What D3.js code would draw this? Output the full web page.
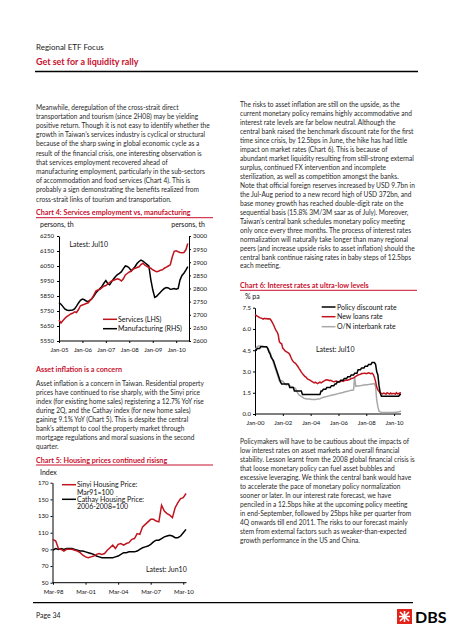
<!DOCTYPE html>
<html><head><meta charset="utf-8">
<script src="https://cdn.jsdelivr.net/npm/d3@7"></script>
<style>html,body{margin:0;padding:0;background:#fff;} svg{display:block}</style>
</head><body>
<svg id="page" width="452" height="640"></svg>
<script>
// ---------------- DATA ----------------
// Chart 4: monthly Jan-05 .. Jul-10
const ch4Start = "2005-01";
const servicesLHS = [5690,5670,5685,5700,5712,5720,5730,5735,5745,5740,5760,5785,
  5790,5795,5800,5805,5820,5835,5860,5885,5890,5895,5905,5915,
  5920,5930,5940,5950,5955,5960,5965,5960,5950,5965,5990,6000,
  6010,6015,6030,6035,6040,6045,6060,6068,6055,6048,6040,6035,
  6025,6018,6012,6015,6022,6025,6035,6042,6050,6058,6110,6148,
  6152,6145,6140,6138,6140,6158,6200];
const manufacturingRHS = [2746,2740,2732,2722,2718,2716,2717,2718,2722,2733,2745,2755,
  2760,2757,2752,2750,2756,2762,2772,2784,2792,2800,2808,2820,
  2830,2818,2814,2826,2836,2846,2853,2858,2864,2876,2886,2884,
  2878,2868,2874,2884,2895,2903,2908,2904,2898,2892,2886,2835,
  2795,2766,2770,2778,2786,2794,2800,2804,2802,2797,2798,2800,
  2797,2800,2832,2850,2858,2870,2883];
const ch4LeftTicks = [5550,5650,5750,5850,5950,6050,6150,6250];
const ch4RightTicks = [2600,2650,2700,2750,2800,2850,2900,2950,3000];
const ch4XTicks = ["Jan-05","Jan-06","Jan-07","Jan-08","Jan-09","Jan-10"];
const ch4Series = ["Services (LHS)","Manufacturing (RHS)"];

// Chart 5: quarterly Mar-98 .. Jun-10
const ch5Start = "1998-03";
const sinyiPrice = [102,100,91,90,88,90,90,90,89,88,86,83,81,80,81,82,84,85,84,85,
  89,92,95,91,96,97,95,97,98,102,103,109,108,117,120,123,126,126,124,123,
  143,136,133,131,128,140,146,151,152,157];
const cathayPrice = [89,91,90,91,90,91,91,91,90,89,88,88,87,86,85,84,82,81,80,80,
  80,80,80,81,82,84,86,86,87,87,87,88,90,92,93,94,96,99,101,101,
  103,105,106,107,106,104,104,106,110,114];
const ch5YTicks = [50,70,90,110,130,150,170];
const ch5XTicks = ["Mar-98","Mar-01","Mar-04","Mar-07","Mar-10"];

// Chart 6: monthly Jan-00 .. Jul-10
const ch6Start = "2000-01";
const policyDiscountRate = [
  4.5,4.5,4.625,4.625,4.625,4.75,4.75,4.75,4.75,4.75,4.75,4.625,
  4.375,4.25,4.0,3.875,3.75,3.5,3.25,3.0,2.75,2.5,2.25,2.125,
  2.125,2.125,2.125,2.125,2.125,2.125,1.875,1.875,1.875,1.875,1.625,1.625,
  1.625,1.625,1.625,1.625,1.625,1.375,1.375,1.375,1.375,1.375,1.375,1.375,
  1.375,1.375,1.375,1.375,1.375,1.375,1.375,1.375,1.375,1.625,1.625,1.75,
  1.75,1.75,1.875,1.875,1.875,1.875,2.0,2.0,2.0,2.125,2.125,2.25,
  2.25,2.25,2.375,2.375,2.375,2.5,2.5,2.5,2.625,2.625,2.625,2.75,
  2.75,2.75,2.875,2.875,2.875,3.125,3.125,3.125,3.25,3.25,3.25,3.375,
  3.375,3.375,3.5,3.5,3.5,3.625,3.625,3.625,3.5,3.0,2.75,2.0,
  1.5,1.25,1.25,1.25,1.25,1.25,1.25,1.25,1.25,1.25,1.25,1.25,
  1.25,1.25,1.25,1.25,1.25,1.375,1.375];
const newLoansRate = [
  7.0,6.95,6.9,6.85,6.8,6.78,6.75,6.7,6.75,6.72,6.74,6.7,
  6.72,6.7,6.6,6.45,6.3,6.1,5.92,5.8,5.6,5.1,5.0,4.95,
  4.63,4.55,4.45,4.4,4.35,4.3,4.2,4.0,3.82,3.7,3.62,3.57,
  3.45,3.35,3.22,3.1,2.95,2.85,2.75,2.65,2.6,2.5,2.45,2.4,
  2.35,2.3,2.25,2.2,2.25,2.2,2.15,2.2,2.25,2.2,2.25,2.3,
  2.35,2.4,2.42,2.4,2.35,2.38,2.35,2.3,2.28,2.3,2.32,2.3,
  2.28,2.3,2.35,2.32,2.3,2.35,2.38,2.4,2.38,2.42,2.45,2.5,
  2.52,2.55,2.6,2.65,2.7,2.75,2.78,2.8,2.85,2.85,2.88,2.87,
  2.85,2.88,2.9,2.87,2.85,2.88,2.8,2.6,2.3,1.9,1.7,1.6,
  1.5,1.45,1.42,1.48,1.45,1.4,1.5,1.45,1.4,1.48,1.42,1.45,
  1.45,1.4,1.5,1.42,1.45,1.48,1.5];
const interbankRate = [
  4.6,4.65,4.75,4.8,4.8,4.82,4.8,4.78,4.75,4.75,4.7,4.6,
  4.5,4.3,4.1,3.9,3.6,3.35,3.1,2.85,2.6,2.35,2.28,2.35,
  2.3,2.2,2.1,2.05,2.1,2.05,2.0,1.95,1.9,1.88,1.85,1.8,
  1.6,1.45,1.35,1.3,1.25,1.2,1.12,1.1,1.08,1.06,1.05,1.05,
  1.04,1.03,1.03,1.02,1.03,1.04,1.05,1.06,1.08,1.12,1.15,1.18,
  1.2,1.22,1.24,1.26,1.28,1.3,1.32,1.34,1.36,1.38,1.4,1.42,
  1.44,1.46,1.48,1.5,1.52,1.55,1.57,1.59,1.61,1.63,1.65,1.67,
  1.68,1.7,2.6,1.95,1.97,1.98,2.0,2.0,2.02,2.03,2.04,2.05,
  2.06,2.07,2.08,2.1,2.1,2.12,2.14,2.15,1.95,1.0,0.5,0.2,
  0.15,0.12,0.11,0.11,0.1,0.1,0.1,0.1,0.1,0.1,0.1,0.11,
  0.11,0.12,0.13,0.14,0.15,0.18,0.2];
const ch6YTicks = [0,1.5,3.0,4.5,6.0,7.5];
const ch6XTicks = ["Jan-00","Jan-02","Jan-04","Jan-06","Jan-08","Jan-10"];
const ch6Series = ["Policy discount rate","New loans rate","O/N interbank rate"];

// ---------------- TEXT ----------------
const para1 = [
 "Meanwhile, deregulation of the cross-strait direct",
 "transportation and tourism (since 2H08) may be yielding",
 "positive return. Though it is not easy to identify whether the",
 "growth in Taiwan\u2019s services industry is cyclical or structural",
 "because of the sharp swing in global economic cycle as a",
 "result of the financial crisis, one interesting observation is",
 "that services employment recovered ahead of",
 "manufacturing employment, particularly in the sub-sectors",
 "of accommodation and food services (Chart 4). This is",
 "probably a sign demonstrating the benefits realized from",
 "cross-strait links of tourism and transportation."];
const para2 = [
 "Asset inflation is a concern in Taiwan. Residential property",
 "prices have continued to rise sharply, with the Sinyi price",
 "index (for existing home sales) registering a 12.7% YoY rise",
 "during 2Q, and the Cathay index (for new home sales)",
 "gaining 9.1% YoY (Chart 5). This is despite the central",
 "bank\u2019s attempt to cool the property market through",
 "mortgage regulations and moral suasions in the second",
 "quarter."];
const para3 = [
 "The risks to asset inflation are still on the upside, as the",
 "current monetary policy remains highly accommodative and",
 "interest rate levels are far below neutral. Although the",
 "central bank raised the benchmark discount rate for the first",
 "time since crisis, by 12.5bps in June, the hike has had little",
 "impact on market rates (Chart 6). This is because of",
 "abundant market liquidity resulting from still-strong external",
 "surplus, continued FX intervention and incomplete",
 "sterilization, as well as competition amongst the banks.",
 "Note that official foreign reserves increased by USD 9.7bn in",
 "the Jul-Aug period to a new record high of USD 372bn, and",
 "base money growth has reached double-digit rate on the",
 "sequential basis (15.8% 3M/3M saar as of July). Moreover,",
 "Taiwan\u2019s central bank schedules monetary policy meeting",
 "only once every three months. The process of interest rates",
 "normalization will naturally take longer than many regional",
 "peers (and increase upside risks to asset inflation) should the",
 "central bank continue raising rates in baby steps of 12.5bps",
 "each meeting."];
const para4 = [
 "Policymakers will have to be cautious about the impacts of",
 "low interest rates on asset markets and overall financial",
 "stability. Lesson learnt from the 2008 global financial crisis is",
 "that loose monetary policy can fuel asset bubbles and",
 "excessive leveraging. We think the central bank would have",
 "to accelerate the pace of monetary policy normalization",
 "sooner or later. In our interest rate forecast, we have",
 "penciled in a 12.5bps hike at the upcoming policy meeting",
 "in end-September, followed by 25bps hike per quarter from",
 "4Q onwards till end 2011. The risks to our forecast mainly",
 "stem from external factors such as weaker-than-expected",
 "growth performance in the US and China."];

// ---------------- RENDER ----------------
const FAMILY = "Lato, 'Open Sans', sans-serif";
const RED = "#c8102e", LINE_RED = "#c0141f", TXT = "#2a2a2a";
const ctx = document.createElement("canvas").getContext("2d");
function fit(t, w, weight) { ctx.font = `${weight} 100px ${FAMILY}`; return 100 * w / ctx.measureText(t).width; }
const bodySize = fit(para1[2], 175, 400);
const headSize = fit("Regional ETF Focus", 68, 400);
const titleSize = fit("Get set for a liquidity rally", 103, 700);
const chartTitleSize = fit("Chart 4: Services employment vs, manufacturing", 155, 700);
const sectionSize = fit("Asset inflation is a concern", 86, 700);
const chartTxt = fit("Manufacturing (RHS)", 64, 400);
const tickSize = fit("6250", 14, 400);

const svg = d3.select("#page").attr("font-family", FAMILY);
svg.append("rect").attr("width", 452).attr("height", 640).attr("fill", "#fff");

function txt(g, s, x, y, size, o = {}) {
  return g.append("text").attr("x", x).attr("y", y).attr("font-size", size)
    .attr("font-weight", o.weight || 400).attr("fill", o.fill || TXT)
    .attr("text-anchor", o.anchor || "start").text(s);
}
function block(lines, x, yc, step, size) {
  lines.forEach((l, i) => txt(svg, l, x, yc + i * step + size * 0.36, size));
}

// Header
txt(svg, "Regional ETF Focus", 36, 50, headSize, {fill: "#222"});
txt(svg, "Get set for a liquidity rally", 36, 65, titleSize, {weight: 700, fill: RED});
svg.append("line").attr("x1", 35).attr("x2", 418).attr("y1", 71.5).attr("y2", 71.5).attr("stroke", "#000").attr("stroke-width", 1.3);

block(para1, 36, 107.3, 9.2, bodySize);
txt(svg, "Asset inflation is a concern", 36, 369.3 + sectionSize * 0.36, sectionSize, {weight: 700, fill: RED});
block(para2, 36, 384, 8.96, bodySize);
block(para3, 240, 105, 8.95, bodySize);
block(para4, 240, 441.7, 9.0, bodySize);

function chartTitle(s, x, yc, x2) {
  txt(svg, s, x, yc + chartTitleSize * 0.36, chartTitleSize, {weight: 700, fill: RED});
  svg.append("line").attr("x1", x).attr("x2", x2).attr("y1", yc + 5).attr("y2", yc + 5).attr("stroke", RED).attr("stroke-width", 1);
}
function styleAxis(g) {
  g.attr("font-family", FAMILY).attr("font-size", tickSize);
  g.selectAll(".domain").attr("stroke", "#000").attr("stroke-width", 1);
  g.selectAll(".tick line").attr("stroke", "#000");
  g.selectAll(".tick text").attr("fill", "#111");
}
const parseTick = d3.timeParse("%b-%y");
const parseStart = d3.timeParse("%Y-%m");
const monthly = (start, arr) => arr.map((v, i) => ({d: d3.timeMonth.offset(parseStart(start), i), v}));
const quarterly = (start, arr) => arr.map((v, i) => ({d: d3.timeMonth.offset(parseStart(start), 3 * i), v}));

// ---- Chart 4 ----
chartTitle("Chart 4: Services employment vs, manufacturing", 36, 212.7, 213);
txt(svg, "persons, th", 40, 224.5 + chartTxt * 0.36, chartTxt, {fill: "#111"});
txt(svg, "persons, th", 205, 224.5 + chartTxt * 0.36, chartTxt, {fill: "#111", anchor: "end"});
{
  const sv = monthly(ch4Start, servicesLHS), mf = monthly(ch4Start, manufacturingRHS);
  const x = d3.scaleTime().domain([parseStart(ch4Start), sv[sv.length - 1].d]).range([59, 187.8]);
  const yL = d3.scaleLinear().domain([5550, 6250]).range([341, 236]);
  const yR = d3.scaleLinear().domain([2600, 3000]).range([341, 236]);
  const gL = svg.append("g").attr("transform", "translate(59,0)")
    .call(d3.axisLeft(yL).tickValues(ch4LeftTicks).tickSize(2).tickSizeOuter(0).tickPadding(3).tickFormat(d3.format("d")));
  styleAxis(gL);
  const gR = svg.append("g").attr("transform", "translate(189,0)")
    .call(d3.axisRight(yR).tickValues(ch4RightTicks).tickSize(2).tickSizeOuter(0).tickPadding(2).tickFormat(d3.format("d")));
  styleAxis(gR);
  const gX = svg.append("g").attr("transform", "translate(0,341)")
    .call(d3.axisBottom(x).tickValues(ch4XTicks.map(parseTick)).tickSize(2).tickSizeOuter(0).tickPadding(5)
      .tickFormat((d, i) => ch4XTicks[i]));
  styleAxis(gX);
  gX.select(".domain").attr("d", "M59,0H189");
  svg.append("path").datum(mf).attr("fill", "none").attr("stroke", "#000").attr("stroke-width", 1.5)
    .attr("d", d3.line().x(d => x(d.d)).y(d => yR(d.v)));
  svg.append("path").datum(sv).attr("fill", "none").attr("stroke", LINE_RED).attr("stroke-width", 1.5)
    .attr("d", d3.line().x(d => x(d.d)).y(d => yL(d.v)));
  txt(svg, "Latest: Jul10", 69.5, 244 + chartTxt * 0.36, chartTxt, {fill: "#111"});
  [[LINE_RED, 319.3], ["#000", 328.7]].forEach(([c, y], i) => {
    svg.append("line").attr("x1", 103).attr("x2", 117).attr("y1", y).attr("y2", y).attr("stroke", c).attr("stroke-width", 1.5);
    txt(svg, ch4Series[i], 118, y + chartTxt * 0.36, chartTxt, {fill: "#111"});
  });
}

// ---- Chart 5 ----
chartTitle("Chart 5: Housing prices continued risisng", 36, 460, 213);
txt(svg, "Index", 40, 472.7 + chartTxt * 0.36, chartTxt, {fill: "#111"});
{
  const sn = quarterly(ch5Start, sinyiPrice), ct = quarterly(ch5Start, cathayPrice);
  const x = d3.scaleTime().domain([parseStart(ch5Start), sn[sn.length - 1].d]).range([53, 186]);
  const y = d3.scaleLinear().domain([50, 170]).range([582.7, 482.7]);
  const gY = svg.append("g").attr("transform", "translate(52.5,0)")
    .call(d3.axisLeft(y).tickValues(ch5YTicks).tickSize(2).tickSizeOuter(0).tickPadding(2));
  styleAxis(gY);
  const gX = svg.append("g").attr("transform", "translate(0,582.7)")
    .call(d3.axisBottom(x).tickValues(ch5XTicks.map(parseTick)).tickSize(2).tickSizeOuter(0).tickPadding(5)
      .tickFormat((d, i) => ch5XTicks[i]));
  styleAxis(gX);
  gX.select(".domain").attr("d", "M52.5,0H186.5");
  svg.append("path").datum(ct).attr("fill", "none").attr("stroke", "#000").attr("stroke-width", 1.5)
    .attr("d", d3.line().x(d => x(d.d)).y(d => y(d.v)));
  svg.append("path").datum(sn).attr("fill", "none").attr("stroke", LINE_RED).attr("stroke-width", 1.5)
    .attr("d", d3.line().x(d => x(d.d)).y(d => y(d.v)));
  const leg = [[LINE_RED, 484.7, ["Sinyi Housing Price:", "Mar91=100"]], ["#000", 499.3, ["Cathay Housing Price:", "2006-2008=100"]]];
  leg.forEach(([c, yy, lab]) => {
    svg.append("line").attr("x1", 62).attr("x2", 76).attr("y1", yy).attr("y2", yy).attr("stroke", c).attr("stroke-width", 1.5);
    lab.forEach((l, j) => txt(svg, l, 77, yy + j * 7.3 + chartTxt * 0.36, chartTxt, {fill: "#111"}));
  });
  txt(svg, "Latest: Jun10", 146, 569.3 + chartTxt * 0.36, chartTxt, {fill: "#111"});
}

// ---- Chart 6 ----
chartTitle("Chart 6: Interest rates at ultra-low levels", 240, 285.3, 417);
txt(svg, "% pa", 245, 296.7 + chartTxt * 0.36, chartTxt, {fill: "#111"});
{
  const pr = monthly(ch6Start, policyDiscountRate), nl = monthly(ch6Start, newLoansRate), ib = monthly(ch6Start, interbankRate);
  const x = d3.scaleTime().domain([parseStart(ch6Start), pr[pr.length - 1].d]).range([255, 401]);
  const y = d3.scaleLinear().domain([0, 7.5]).range([414, 307.7]);
  const gY = svg.append("g").attr("transform", "translate(255,0)")
    .call(d3.axisLeft(y).tickValues(ch6YTicks).tickSize(2).tickSizeOuter(0).tickPadding(2).tickFormat(d3.format(".1f")));
  styleAxis(gY);
  const gX = svg.append("g").attr("transform", "translate(0,414)")
    .call(d3.axisBottom(x).tickValues(ch6XTicks.map(parseTick)).tickSize(2).tickSizeOuter(0).tickPadding(5)
      .tickFormat((d, i) => ch6XTicks[i]));
  styleAxis(gX);
  gX.select(".domain").attr("d", "M255,0H401");
  const ln = d3.line().x(d => x(d.d)).y(d => y(d.v));
  svg.append("path").datum(ib).attr("fill", "none").attr("stroke", "#a8a8a8").attr("stroke-width", 1.5).attr("d", ln);
  svg.append("path").datum(nl).attr("fill", "none").attr("stroke", LINE_RED).attr("stroke-width", 1.5).attr("d", ln);
  svg.append("path").datum(pr).attr("fill", "none").attr("stroke", "#000").attr("stroke-width", 1.5).attr("d", ln);
  [["#000", 307], [LINE_RED, 316.7], ["#a8a8a8", 326.7]].forEach(([c, yy], i) => {
    svg.append("line").attr("x1", 321.7).attr("x2", 335.5).attr("y1", yy).attr("y2", yy).attr("stroke", c).attr("stroke-width", 1.5);
    txt(svg, ch6Series[i], 337, yy + chartTxt * 0.36, chartTxt, {fill: "#111"});
  });
  txt(svg, "Latest: Jul10", 316, 349.3 + chartTxt * 0.36, chartTxt, {fill: "#111"});
}

// Footer
svg.append("line").attr("x1", 33).attr("x2", 413).attr("y1", 602.7).attr("y2", 602.7).attr("stroke", "#000").attr("stroke-width", 1.3);
txt(svg, "Page 34", 36, 615 + chartTxt * 0.36, chartTxt, {fill: "#222"});
{
  const lg = svg.append("g").attr("transform", "translate(397,609)");
  lg.append("rect").attr("width", 15).attr("height", 15).attr("fill", "#e2231a");
  lg.append("path").attr("d", "M3,3L12,12M12,3L3,12M7.5,2V13M2,7.5H13").attr("stroke", "#fff").attr("stroke-width", 1.6);
  txt(lg, "DBS", 18, 13.5, 16, {weight: 700, fill: "#000"});
}
</script>
</body></html>
